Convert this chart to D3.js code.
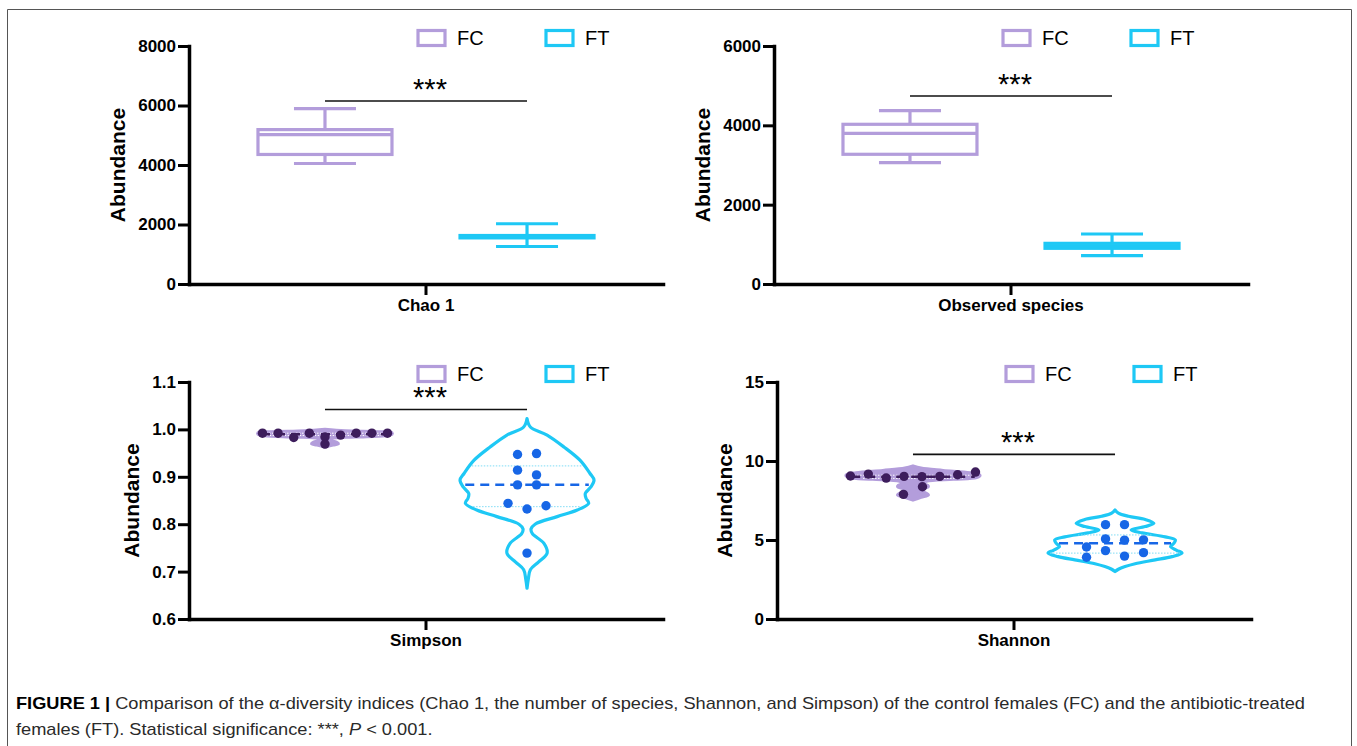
<!DOCTYPE html>
<html>
<head>
<meta charset="utf-8">
<script src="https://cdn.jsdelivr.net/npm/d3@7"></script>
<style>
  body { margin: 0; background: #fff; }
  svg { font-family: "Liberation Sans", Arial, sans-serif; }
</style>
</head>
<body>
<div id="chart"></div>
<script>
// ---------- data ----------
const groups = ['FC', 'FT'];

// box plots: [min, q1, median, q3, max]
const chaoFC = [4050, 4354, 5020, 5190, 5897];
const chaoFT = [1260, 1550, 1590, 1630, 2025];
const obsFC = [3058, 3270, 3799, 4026, 4369];
const obsFT = [714, 900, 960, 1025, 1260];

// individual samples, in reading order (row by row, left to right)
const simpsonFC = [0.992, 0.992, 0.983, 0.992, 0.984, 0.988, 0.992, 0.992, 0.992, 0.969];
const simpsonFT = [0.947, 0.949, 0.914, 0.904, 0.883, 0.883, 0.844, 0.832, 0.839, 0.739];
const shannonFC = [9.05, 9.17, 8.92, 9.03, 9.01, 9.03, 9.13, 9.30, 7.89, 8.37];
const shannonFT = [5.97, 5.97, 4.56, 5.07, 4.99, 5.01, 3.91, 4.33, 3.98, 4.20];

// violin outlines: [value, relative half width]
const simpsonFCViolin = [[1.000, 0], [0.997, 0.3], [0.995, 0.8], [0.993, 1], [0.990, 1], [0.987, 0.9],
  [0.984, 0.45], [0.981, 0.1], [0.977, 0.07], [0.973, 0.17], [0.970, 0.2], [0.967, 0.12], [0.963, 0]];
const simpsonFTViolin = [[1.023, 0], [1.005, 0.05], [0.988, 0.3], [0.963, 0.55], [0.935, 0.79], [0.907, 0.94],
  [0.893, 1.0], [0.878, 0.95], [0.865, 0.87], [0.855, 0.88], [0.844, 0.92], [0.830, 0.75], [0.816, 0.45],
  [0.800, 0.12], [0.790, 0.06], [0.780, 0.08], [0.760, 0.25], [0.739, 0.3], [0.720, 0.17], [0.704, 0.05],
  [0.685, 0.02], [0.665, 0]];
const shannonFCViolin = [[9.69, 0], [9.55, 0.12], [9.4, 0.45], [9.25, 0.85], [9.1, 1.0], [8.95, 0.95],
  [8.85, 0.6], [8.72, 0.2], [8.6, 0.15], [8.45, 0.22], [8.37, 0.23], [8.25, 0.15], [8.12, 0.06],
  [8.0, 0.18], [7.85, 0.23], [7.7, 0.12], [7.53, 0]];
const shannonFTViolin = [[6.9, 0], [6.7, 0.05], [6.5, 0.2], [6.3, 0.45], [6.06, 0.58], [5.85, 0.45],
  [5.64, 0.24], [5.45, 0.4], [5.2, 0.75], [5.0, 0.9], [4.8, 0.88], [4.58, 0.83], [4.35, 0.92],
  [4.17, 1.0], [3.95, 0.85], [3.74, 0.6], [3.5, 0.3], [3.32, 0.15], [3.15, 0.05], [3.0, 0]];

// [q1, median, q3] lines inside the violins
const simpsonFCLines = [0.987, 0.990, 0.992];
const simpsonFTLines = [0.837, 0.883, 0.923];
const shannonFCLines = [8.9, 9.0, 9.1];
const shannonFTLines = [4.17, 4.80, 5.32];

// y ticks and significance bar heights
const chaoTicks = [0, 2000, 4000, 6000, 8000];
const obsTicks = [0, 2000, 4000, 6000];
const simpsonTicks = [0.6, 0.7, 0.8, 0.9, 1.0, 1.1];
const shannonTicks = [0, 5, 10, 15];
const sigLevels = [6150, 4740, 1.042, 10.42];

const captionLines = [
  'Comparison of the \u03b1-diversity indices (Chao 1, the number of species, Shannon, and Simpson) of the control females (FC) and the antibiotic-treated',
  'females (FT). Statistical significance: ***, '
];

// ---------- styling ----------
const colors = {FC: '#b39ddb', FT: '#1ec8f5'};
const dotColors = {FC: '#3d1d5c', FT: '#1766e6'};
const plotWidth = 474;
const boxWidth = 134;
const capWidth = 62;
const violinHalf = 67;

const svg = d3.select('#chart').append('svg')
  .attr('width', 1357)
  .attr('height', 746);

// figure frame
svg.append('path')
  .attr('d', 'M7.5,746V9.5H1351.5V746')
  .attr('fill', 'none')
  .attr('stroke', '#555')
  .attr('stroke-width', 1);

function drawPanel(p) {
  const g = svg.append('g');

  const y = d3.scaleLinear().domain(d3.extent(p.ticks)).range([p.bottom, p.top]);
  const x = d3.scalePoint().domain(groups).range([p.left, p.left + plotWidth]).padding(0.673);
  const xAxisScale = d3.scaleBand().domain([p.xLabel]).range([p.left, p.left + plotWidth]);

  // y axis
  const yAxisG = g.append('g')
    .attr('transform', `translate(${p.left},0)`)
    .call(d3.axisLeft(y).tickValues(p.ticks).tickFormat(p.format).tickSize(11).tickPadding(2).tickSizeOuter(0));
  yAxisG.selectAll('.tick text').attr('font-size', 17).attr('font-weight', 'bold').attr('fill', '#000');

  // x axis with a single centred tick
  const xAxisG = g.append('g')
    .attr('transform', `translate(0,${p.bottom})`)
    .call(d3.axisBottom(xAxisScale).tickSize(11).tickPadding(4).tickSizeOuter(0));
  xAxisG.selectAll('.tick text').attr('font-size', 17).attr('font-weight', 'bold').attr('fill', '#000');

  [yAxisG, xAxisG].forEach(a => {
    a.select('.domain').attr('stroke', '#000').attr('stroke-width', 3.5).attr('stroke-linecap', 'square');
    a.selectAll('.tick line').attr('stroke', '#000').attr('stroke-width', 3);
  });

  // y label placed beside the widest tick label
  const maxW = d3.max(yAxisG.selectAll('.tick text').nodes(), n => n.getComputedTextLength());
  g.append('text')
    .attr('transform', `translate(${p.left - (13 + maxW + 21)},${(p.top + p.bottom) / 2}) rotate(-90)`)
    .attr('text-anchor', 'middle')
    .attr('dominant-baseline', 'central')
    .attr('font-size', 21)
    .attr('font-weight', 'bold')
    .text('Abundance');

  // legend
  const legend = g.append('g').attr('transform', `translate(${p.left + 229},${p.top - 8})`);
  groups.forEach((k, i) => {
    const lg = legend.append('g').attr('transform', `translate(${i * 128},0)`);
    lg.append('rect')
      .attr('x', 0).attr('y', -7.5).attr('width', 27).attr('height', 15)
      .attr('fill', '#fff').attr('stroke', colors[k]).attr('stroke-width', 3.2);
    lg.append('text')
      .attr('x', 39).attr('y', 0)
      .attr('dominant-baseline', 'central')
      .attr('font-size', 20)
      .text(k);
  });

  if (p.type === 'box') drawBoxes(g, p, x, y);
  else drawViolins(g, p, x, y);

  // significance bar
  const sy = y(p.sig);
  g.append('line')
    .attr('x1', x('FC')).attr('x2', x('FT'))
    .attr('y1', sy).attr('y2', sy)
    .attr('stroke', '#111').attr('stroke-width', 1.6);
  g.append('text')
    .attr('x', (x('FC') + x('FT')) / 2 + 4)
    .attr('y', sy - 2)
    .attr('text-anchor', 'middle')
    .attr('font-size', 29)
    .text('***');
}

function drawBoxes(g, p, x, y) {
  groups.forEach(k => {
    const [mn, q1, md, q3, mx] = p.data[k];
    const cx = x(k);
    const bg = g.append('g')
      .attr('stroke', colors[k]).attr('stroke-width', 3.2).attr('fill', 'none');
    bg.append('line').attr('x1', cx).attr('x2', cx).attr('y1', y(mx)).attr('y2', y(q3));
    bg.append('line').attr('x1', cx).attr('x2', cx).attr('y1', y(q1)).attr('y2', y(mn));
    bg.append('line').attr('x1', cx - capWidth / 2).attr('x2', cx + capWidth / 2).attr('y1', y(mx)).attr('y2', y(mx));
    bg.append('line').attr('x1', cx - capWidth / 2).attr('x2', cx + capWidth / 2).attr('y1', y(mn)).attr('y2', y(mn));
    bg.append('rect')
      .attr('x', cx - boxWidth / 2).attr('width', boxWidth)
      .attr('y', y(q3)).attr('height', y(q1) - y(q3))
      .attr('fill', '#fff');
    bg.append('line').attr('x1', cx - boxWidth / 2).attr('x2', cx + boxWidth / 2).attr('y1', y(md)).attr('y2', y(md));
  });
}

// group samples that sit on nearly the same row, then spread each row around the centre
function layoutDots(values, y, cx) {
  const rows = [];
  values.forEach(v => {
    const py = y(v);
    const last = rows[rows.length - 1];
    if (last && Math.abs(py - last.y0) <= 9) last.items.push(v);
    else rows.push({y0: py, items: [v]});
  });
  const out = [];
  rows.forEach(r => {
    const n = r.items.length;
    const step = n > 1 ? Math.min(19, 125 / (n - 1)) : 0;
    r.items.forEach((v, i) => out.push({v: v, x: cx + (i - (n - 1) / 2) * step}));
  });
  return out;
}

function drawViolins(g, p, x, y) {
  const w = d3.scaleLinear().domain([0, 1]).range([0, violinHalf]);
  groups.forEach(k => {
    const cx = x(k);
    const outline = p.violin[k];
    const area = d3.area()
      .y(d => y(d[0]))
      .x0(d => cx - w(d[1]))
      .x1(d => cx + w(d[1]))
      .curve(d3.curveCatmullRom.alpha(0.5));

    g.append('path')
      .datum(outline)
      .attr('d', area)
      .attr('fill', k === 'FC' ? colors.FC : '#fff')
      .attr('stroke', colors[k])
      .attr('stroke-width', 3.2)
      .attr('stroke-linejoin', 'round');

    // half width of the outline at a given value
    const widthAt = d3.scaleLinear().domain(outline.map(d => d[0])).range(outline.map(d => d[1]));
    const [q1, md, q3] = p.lines[k];
    [q1, q3].forEach(v => {
      const hw = w(widthAt(v)) - 2;
      g.append('line')
        .attr('x1', cx - hw).attr('x2', cx + hw).attr('y1', y(v)).attr('y2', y(v))
        .attr('stroke', k === 'FC' ? '#fff' : '#7fdcf5')
        .attr('stroke-width', 1)
        .attr('stroke-dasharray', '1.5,1.5');
    });
    const hm = w(widthAt(md)) - 3;
    g.append('line')
      .attr('x1', cx - hm).attr('x2', cx + hm).attr('y1', y(md)).attr('y2', y(md))
      .attr('stroke', k === 'FC' ? dotColors.FC : dotColors.FT)
      .attr('stroke-width', 2.5)
      .attr('stroke-dasharray', '9,6');

    g.append('g').selectAll('circle')
      .data(layoutDots(p.data[k], y, cx))
      .join('circle')
        .attr('cx', d => d.x)
        .attr('cy', d => y(d.v))
        .attr('r', 4.7)
        .attr('fill', dotColors[k]);
  });
}

function drawCaption() {
  const cap = svg.append('g')
    .attr('font-size', 17)
    .attr('fill', '#2a2a2a')
    .attr('transform', 'translate(16,0) scale(1.072,1)');
  const t1 = cap.append('text').attr('x', 0).attr('y', 709);
  t1.append('tspan').attr('font-weight', 'bold').attr('fill', '#000').text('FIGURE 1 | ');
  t1.append('tspan').text(captionLines[0]);
  const t2 = cap.append('text').attr('x', 0).attr('y', 735);
  t2.append('tspan').text(captionLines[1]);
  t2.append('tspan').attr('font-style', 'italic').text('P');
  t2.append('tspan').text(' < 0.001.');
}

function init() {
  const fmt1 = d3.format('.1f');
  drawPanel({type: 'box', left: 189, top: 46, bottom: 284, ticks: chaoTicks, format: d3.format('d'),
    xLabel: 'Chao 1', sig: sigLevels[0], data: {FC: chaoFC, FT: chaoFT}});
  drawPanel({type: 'box', left: 774, top: 46, bottom: 284, ticks: obsTicks, format: d3.format('d'),
    xLabel: 'Observed species', sig: sigLevels[1], data: {FC: obsFC, FT: obsFT}});
  drawPanel({type: 'violin', left: 189, top: 382, bottom: 619, ticks: simpsonTicks, format: fmt1,
    xLabel: 'Simpson', sig: sigLevels[2], data: {FC: simpsonFC, FT: simpsonFT},
    violin: {FC: simpsonFCViolin, FT: simpsonFTViolin}, lines: {FC: simpsonFCLines, FT: simpsonFTLines}});
  drawPanel({type: 'violin', left: 777, top: 382, bottom: 619, ticks: shannonTicks, format: d3.format('d'),
    xLabel: 'Shannon', sig: sigLevels[3], data: {FC: shannonFC, FT: shannonFT},
    violin: {FC: shannonFCViolin, FT: shannonFTViolin}, lines: {FC: shannonFCLines, FT: shannonFTLines}});
  drawCaption();
}

window.onload = init;
</script>
</body>
</html>
